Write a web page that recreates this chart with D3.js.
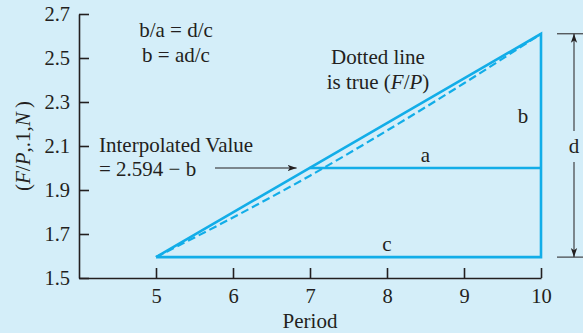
<!DOCTYPE html>
<html lang="en">
<head>
<meta charset="UTF-8">
<script src="https://cdn.jsdelivr.net/npm/d3@7"></script>
<style>
  html, body { margin: 0; padding: 0; background: #d4eef9; }
  svg { display: block; }
  text { font-family: "Liberation Serif", "Times New Roman", serif; fill: #231f20; }
</style>
</head>
<body>
<div id="chart"></div>
<script>
// chart values
var xTicks = [5, 6, 7, 8, 9, 10];
var yTicks = [1.5, 1.7, 1.9, 2.1, 2.3, 2.5, 2.7];
var chordPeriods = [5, 10];          // straight-line interpolation ends
var chordValues = [1.595, 2.61];
var truePeriods = [5, 6, 7, 8, 9, 10]; // dotted curve = true (F/P)
var trueValues = [1.595, 1.775, 1.965, 2.17, 2.385, 2.61];
var interpValue = 2.0;               // level of side "a"

var width = 583, height = 333,
    lineColor = "#12ade8",
    inkColor = "#231f20",
    fs = 21;

var x = d3.scaleLinear().domain([4, 10]).range([79, 541]);
var y = d3.scaleLinear().domain([1.5, 2.7]).range([278, 14]);

var svg = d3.select("#chart").append("svg")
    .attr("width", width)
    .attr("height", height);

svg.append("defs").append("marker")
    .attr("id", "arrow")
    .attr("viewBox", "0 0 10 10")
    .attr("refX", 10).attr("refY", 5)
    .attr("markerWidth", 9).attr("markerHeight", 9)
    .attr("markerUnits", "userSpaceOnUse")
    .attr("orient", "auto-start-reverse")
  .append("path")
    .attr("d", "M0,1.5L10,5L0,8.5L2.5,5Z")
    .attr("fill", inkColor);

// axes, ticks pointing inward
var yAxis = d3.axisLeft(y).tickValues(yTicks).tickFormat(d3.format(".1f"))
    .tickSizeInner(-10).tickSizeOuter(0).tickPadding(9);
var xAxis = d3.axisBottom(x).tickValues(xTicks).tickFormat(d3.format("d"))
    .tickSizeInner(-10).tickSizeOuter(0).tickPadding(10);

var gy = svg.append("g").attr("transform", "translate(" + x(4) + ",0)").call(yAxis);
var gx = svg.append("g").attr("transform", "translate(0," + y(1.5) + ")").call(xAxis);
[gx, gy].forEach(function(g) {
  g.selectAll("path, line").attr("stroke", inkColor).attr("stroke-width", 1.6);
  g.selectAll("text").attr("font-size", 20.5).attr("fill", inkColor)
    .style("font-family", '"Liberation Serif", "Times New Roman", serif');
});

// triangle of the straight-line interpolation
var x0 = chordPeriods[0], x1 = chordPeriods[1],
    v0 = chordValues[0], v1 = chordValues[1];
var tri = [[x0, v0], [x1, v1], [x1, v0], [x0, v0]];
svg.append("path")
    .datum(tri)
    .attr("d", d3.line().x(function(d) { return x(d[0]); }).y(function(d) { return y(d[1]); }))
    .attr("fill", "none")
    .attr("stroke", lineColor)
    .attr("stroke-width", 2.6)
    .attr("stroke-linejoin", "miter");

// side "a": from the chord at the interpolated level to period 10
var xa = x0 + (interpValue - v0) / (v1 - v0) * (x1 - x0);
svg.append("line")
    .attr("x1", x(xa)).attr("x2", x(x1))
    .attr("y1", y(interpValue)).attr("y2", y(interpValue))
    .attr("stroke", lineColor).attr("stroke-width", 2.4);

// dotted true curve
svg.append("path")
    .datum(d3.zip(truePeriods, trueValues))
    .attr("d", d3.line().curve(d3.curveMonotoneX)
        .x(function(d) { return x(d[0]); }).y(function(d) { return y(d[1]); }))
    .attr("fill", "none")
    .attr("stroke", lineColor)
    .attr("stroke-width", 2.2)
    .attr("stroke-dasharray", "8,4");

// arrow to the interpolated point
svg.append("line")
    .attr("x1", 215).attr("x2", x(xa) - 13)
    .attr("y1", y(interpValue)).attr("y2", y(interpValue))
    .attr("stroke", inkColor).attr("stroke-width", 1)
    .attr("marker-end", "url(#arrow)");

// dimension "d"
var dx = 574, yTop = y(v1), yBot = y(v0);
[yTop, yBot].forEach(function(yy) {
  svg.append("line").attr("x1", 557).attr("x2", 583).attr("y1", yy).attr("y2", yy)
    .attr("stroke", inkColor).attr("stroke-width", 1);
});
svg.append("line").attr("x1", dx).attr("x2", dx).attr("y1", 131).attr("y2", yTop)
    .attr("stroke", inkColor).attr("stroke-width", 1).attr("marker-end", "url(#arrow)");
svg.append("line").attr("x1", dx).attr("x2", dx).attr("y1", 162).attr("y2", yBot)
    .attr("stroke", inkColor).attr("stroke-width", 1).attr("marker-end", "url(#arrow)");

// labels
function label(tx, ty, str, anchor) {
  return svg.append("text").attr("x", tx).attr("y", ty)
    .attr("font-size", fs).attr("text-anchor", anchor || "middle").text(str);
}
label(176, 37, "b/a = d/c");
label(176, 62, "b = ad/c");
label(378, 64, "Dotted line");
var t = label(378, 89, "is true (");
t.append("tspan").attr("font-style", "italic").text("F");
t.append("tspan").text("/");
t.append("tspan").attr("font-style", "italic").text("P");
t.append("tspan").text(")");
label(523, 123, "b");
label(x(8.5), 162, "a");
label(x(8), 251, "c");
label(dx, 153, "d");
label(99, 152, "Interpolated Value", "start");
label(99, 176, "= 2.594 \u2212 b", "start");
label(x(7), 328, "Period");

var yl = svg.append("text")
    .attr("transform", "translate(30," + y(2.1) + ") rotate(-90)")
    .attr("font-size", fs).attr("text-anchor", "middle");
yl.append("tspan").text("(");
yl.append("tspan").attr("font-style", "italic").text("F");
yl.append("tspan").text("/");
yl.append("tspan").attr("font-style", "italic").text("P");
yl.append("tspan").text(",.1,");
yl.append("tspan").attr("font-style", "italic").text("N");
yl.append("tspan").text("\u2009)");
</script>
</body>
</html>
